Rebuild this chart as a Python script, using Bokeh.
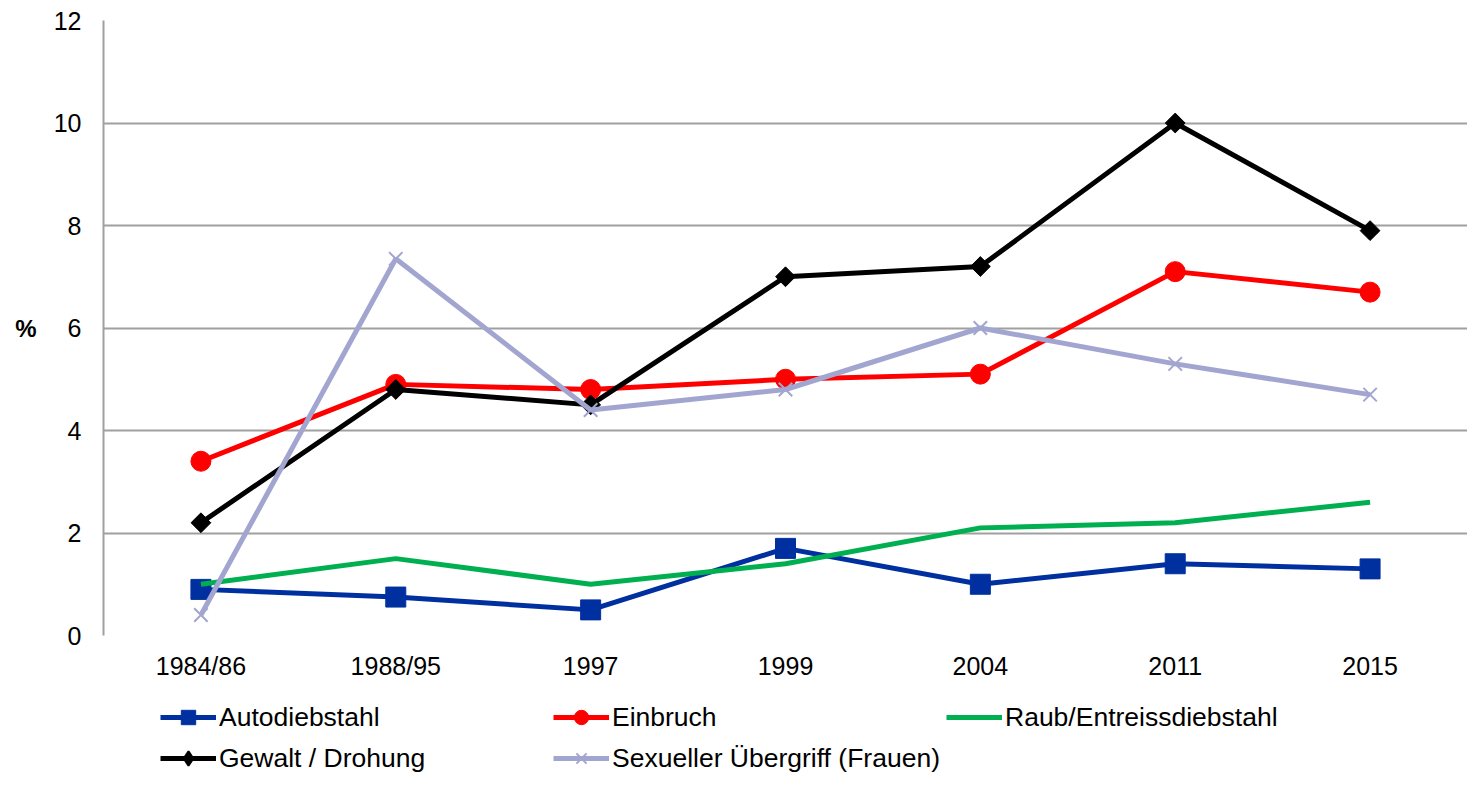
import numpy as np
from bokeh.plotting import figure
from bokeh.layouts import column
from bokeh.models import FactorRange, Range1d, FixedTicker, Legend, ColumnDataSource
from bokeh.embed import file_html
from bokeh.resources import INLINE

categories = ["1984/86", "1988/95", "1997", "1999", "2004", "2011", "2015"]
autodiebstahl = [0.9, 0.75, 0.5, 1.7, 1.0, 1.4, 1.3]
einbruch = [3.4, 4.9, 4.8, 5.0, 5.1, 7.1, 6.7]
raub = [1.0, 1.5, 1.0, 1.4, 2.1, 2.2, 2.6]
gewalt = [2.2, 4.8, 4.5, 7.0, 7.2, 10.0, 7.9]
sexuell = [0.4, 7.35, 4.4, 4.8, 6.0, 5.3, 4.7]
y_ticks = [0, 2, 4, 6, 8, 10, 12]
series_names = ["Autodiebstahl", "Einbruch", "Raub/Entreissdiebstahl",
                "Gewalt / Drohung", "Sexueller Übergriff (Frauen)"]

FONT = "Liberation Sans"
W = 1467

p = figure(width=W, height=682, output_backend="svg", toolbar_location=None,
           x_range=FactorRange(*categories, range_padding=0), y_range=Range1d(0, 12),
           min_border_left=103, min_border_right=0, min_border_top=20, min_border_bottom=45)
p.outline_line_color = None
p.xgrid.grid_line_color = None
p.ygrid.grid_line_color = "#A0A0A0"
p.ygrid.grid_line_width = 2
p.ygrid.ticker = FixedTicker(ticks=y_ticks)

p.yaxis.ticker = FixedTicker(ticks=y_ticks)
p.yaxis.axis_line_color = "#A0A0A0"
p.yaxis.axis_line_width = 2
p.yaxis.major_tick_line_color = None
p.yaxis.minor_tick_line_color = None
p.yaxis.major_tick_out = 0
p.yaxis.major_label_standoff = 22
p.yaxis.major_label_text_font = FONT
p.yaxis.major_label_text_font_size = "25px"
p.yaxis.major_label_text_color = "black"
p.yaxis.axis_label = "%"
p.yaxis.axis_label_text_font = FONT
p.yaxis.axis_label_text_font_size = "24px"
p.yaxis.axis_label_text_font_style = "bold"
p.yaxis.axis_label_text_color = "black"
p.yaxis.axis_label_standoff = 14
if "axis_label_orientation" in p.yaxis[0].properties():
    p.yaxis.axis_label_orientation = "horizontal"

p.xaxis.axis_line_color = None
p.xaxis.major_tick_line_color = None
p.xaxis.minor_tick_line_color = None
p.xaxis.major_tick_out = 0
p.xaxis.major_label_standoff = 16
p.xaxis.major_label_text_font = FONT
p.xaxis.major_label_text_font_size = "25px"
p.xaxis.major_label_text_color = "black"

src = ColumnDataSource(dict(x=categories, a=autodiebstahl, e=einbruch, r=raub, g=gewalt, s=sexuell))

blue = "#0030A0"
red = "#FF0000"
green = "#00B050"
lav = "#A2A5CF"
LW = 5


def draw(fig, for_legend=False):
    rs = []
    rs.append([fig.line("x", "a", source=src, line_color=blue, line_width=LW),
               fig.scatter("x", "a", source=src, marker="square", size=20, fill_color=blue, line_color=blue)])
    rs.append([fig.line("x", "e", source=src, line_color=red, line_width=LW),
               fig.scatter("x", "e", source=src, marker="circle", size=20, fill_color=red, line_color=red)])
    rs.append([fig.line("x", "r", source=src, line_color=green, line_width=LW)])
    if for_legend:
        black_marker = fig.scatter("x", "g", source=src, marker="diamond", size=20,
                                   fill_color="black", line_color="black", line_width=2)
    else:
        black_marker = fig.scatter("x", "g", source=src, marker="square", angle=np.pi / 4, size=14,
                                   fill_color="black", line_color="black")
    rs.append([fig.line("x", "g", source=src, line_color="black", line_width=LW), black_marker])
    rs.append([fig.line("x", "s", source=src, line_color=lav, line_width=LW),
               fig.scatter("x", "s", source=src, marker="x", size=19, line_color=lav, line_width=2)])
    return rs


draw(p)

# legend strip: same renderers, y range chosen so that no data falls inside it
q = figure(width=W, height=90, output_backend="svg", toolbar_location=None,
           x_range=p.x_range, y_range=Range1d(-30, -20),
           min_border_left=0, min_border_right=0, min_border_top=0, min_border_bottom=0)
q.axis.visible = False
q.grid.visible = False
q.outline_line_color = None
lr = draw(q, for_legend=True)

legend = Legend(items=[(n, r) for n, r in zip(series_names, lr)],
                orientation="horizontal", ncols=3, location=(57, -4))
legend.glyph_width = 56
legend.glyph_height = 36
legend.label_height = 36
legend.label_width = 329
legend.label_standoff = 3
legend.spacing = 5
legend.padding = 0
legend.margin = 0
legend.border_line_color = None
legend.background_fill_alpha = 0
legend.label_text_font = FONT
legend.label_text_font_size = "26.5px"
legend.label_text_color = "black"
q.add_layout(legend, "center")

layout = column(p, q, spacing=0)
open("out.html", "w").write(file_html(layout, INLINE))
